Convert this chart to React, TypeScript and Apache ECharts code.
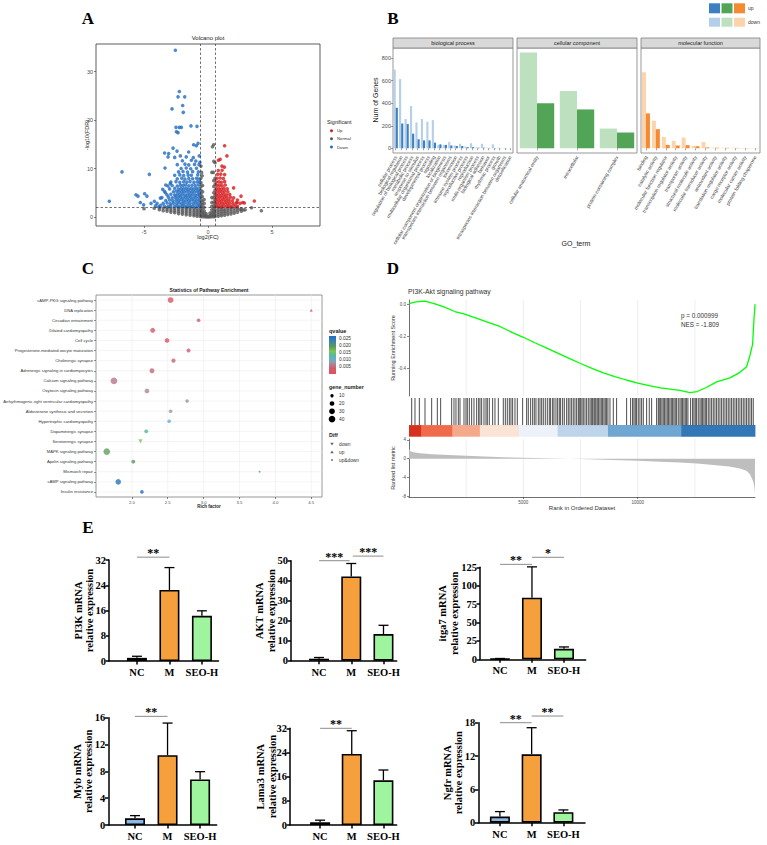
import React, { useEffect, useRef } from "react";
import * as echarts from "echarts";

const sans = "'Liberation Sans', Arial, sans-serif";
const serif = "'Liberation Serif', 'Times New Roman', serif";

// ================= A: volcano =================
const volcanoXTicks = [-5, 0, 5];
const volcanoYTicks = [0, 10, 20, 30];
const log2FcCutoff = 0.585;
const negLog10FdrCutoff = 2;

const volcanoNormal = [
  [-5.0, 1.7], [-4.2, 1.8], [-3.8, 1.5], [-3.8, 1.9], [-3.5, 1.3], [-3.5, 1.8], [-3.2, 1.2], [-3.2, 1.6], [-3.2, 1.95],
  [-2.9, 1.0], [-2.9, 1.4], [-2.9, 1.8], [-2.6, 0.9], [-2.6, 1.3], [-2.6, 1.7],
  [-2.3, 0.7], [-2.3, 1.1], [-2.3, 1.5], [-2.3, 1.9], [-2.0, 0.6], [-2.0, 1.0], [-2.0, 1.4], [-2.0, 1.8],
  [-1.7, 0.45], [-1.7, 0.85], [-1.7, 1.25], [-1.7, 1.65], [-1.7, 1.95], [-1.4, 0.35], [-1.4, 0.75], [-1.4, 1.15], [-1.4, 1.55], [-1.4, 1.9],
  [-1.1, 0.25], [-1.1, 0.6], [-1.1, 1.0], [-1.1, 1.4], [-1.1, 1.8], [-0.85, 0.15], [-0.85, 0.5], [-0.85, 0.9], [-0.85, 1.3], [-0.85, 1.7],
  [-0.6, 0.1], [-0.6, 0.45], [-0.6, 0.85], [-0.6, 1.25], [-0.6, 1.65], [-0.55, 2.1], [-0.55, 2.7], [-0.55, 3.4], [-0.55, 4.1],
  [-0.55, 4.8], [-0.55, 5.5], [-0.55, 6.3], [-0.55, 7.1], [-0.55, 8.0], [-0.5, 9.2], [-0.55, 10.5],
  [-0.45, 0.05], [-0.45, 0.4], [-0.45, 0.8], [-0.45, 1.3], [-0.45, 1.9], [-0.45, 2.6], [-0.45, 3.3], [-0.45, 4.2], [-0.42, 5.2], [-0.42, 6.5], [-0.45, 8.5],
  [-0.3, 0.05], [-0.3, 0.35], [-0.3, 0.8], [-0.3, 1.3], [-0.3, 2.0], [-0.3, 2.8], [-0.3, 3.6],
  [-0.15, 0.0], [-0.15, 0.3], [-0.15, 0.7], [0, 0.0], [0, 0.15], [0.15, 0.0], [0.15, 0.3], [0.15, 0.8],
  [0.3, 0.05], [0.3, 0.4], [0.3, 0.9], [0.3, 1.5], [0.3, 2.2], [0.3, 3.0], [0.3, 4.0], [0.3, 9.2],
  [0.45, 0.05], [0.45, 0.45], [0.45, 1.0], [0.45, 1.6], [0.45, 2.3], [0.45, 3.1], [0.45, 4.0], [0.45, 5.0], [0.45, 6.3], [0.45, 7.5],
  [0.42, 9.2], [0.45, 11.5], [0.44, 14.9], [0.35, 14.5],
  [0.55, 0.1], [0.55, 0.5], [0.55, 1.0], [0.55, 1.5], [0.55, 2.1], [0.55, 2.8], [0.55, 3.6], [0.55, 4.5], [0.55, 5.5], [0.55, 6.7], [0.55, 8.0], [0.55, 11.2],
  [0.8, 0.15], [0.8, 0.55], [0.8, 1.0], [0.8, 1.45], [0.8, 1.9], [1.05, 0.25], [1.05, 0.65], [1.05, 1.1], [1.05, 1.5], [1.05, 1.9],
  [1.3, 0.35], [1.3, 0.8], [1.3, 1.2], [1.3, 1.6], [1.55, 0.5], [1.55, 0.95], [1.55, 1.4], [1.55, 1.85],
  [1.8, 0.65], [1.8, 1.1], [1.8, 1.55], [1.8, 1.95], [2.05, 0.8], [2.05, 1.3], [2.05, 1.8], [2.3, 1.0], [2.3, 1.5], [2.3, 1.9],
  [2.6, 1.2], [2.6, 1.7], [2.9, 1.5], [2.55, 1.55], [3.4, 1.9], [4.17, 1.3], [2.79, 1.45],
];

const volcanoDown = [
  [-2.55, 34.4], [-2.24, 25.9], [-2.34, 24.8], [-1.82, 24.8], [-1.98, 23.0], [-2.81, 22.3], [-1.93, 21.6],
  [-2.5, 18.5], [-2.24, 18.5], [-2.08, 18.5], [-2.47, 17.6], [-2.34, 17.4], [-1.33, 18.8], [-0.86, 18.7],
  [-6.72, 9.3], [-4.58, 8.8], [-7.71, 3.25], [-5.63, 4.6], [-5.47, 4.3], [-4.95, 4.8], [-4.77, 4.3], [-5.29, 3.0], [-5.03, 2.5], [-4.45, 2.8],
  [-3.36, 10.1], [-3.39, 13.2], [-3.07, 13.1], [-2.73, 14.2], [-1.12, 14.9], [-0.78, 15.2], [-0.91, 14.7], [-1.51, 13.4],
  [-2.42, 13.6], [-2.16, 12.6], [-3.12, 12.4], [-0.68, 12.6], [-0.63, 11.3],
  [-3.72, 3.9], [-3.54, 5.7], [-3.33, 5.0], [-3.98, 2.8], [-4.19, 3.25], [-3.13, 6.4], [-2.95, 6.9], [-4.1, 2.3], [-3.85, 2.1],
  [-3.4, 2.2], [-3.1, 2.15], [-2.9, 2.3], [-2.6, 2.2], [-2.4, 2.25], [-2.2, 2.1], [-2.0, 2.3], [-1.8, 2.2], [-1.6, 2.15], [-1.4, 2.3], [-1.2, 2.2], [-1.0, 2.1], [-0.8, 2.25], [-0.65, 2.2], [-3.7, 2.4],
  [-3.5, 2.8], [-3.2, 2.9], [-2.95, 2.75], [-2.7, 2.85], [-2.45, 2.8], [-2.25, 2.9], [-2.05, 2.75], [-1.85, 2.85], [-1.6, 2.8], [-1.4, 2.9], [-1.15, 2.75], [-0.95, 2.85], [-0.75, 2.8],
  [-3.3, 3.4], [-3.0, 3.5], [-2.75, 3.35], [-2.5, 3.45], [-2.3, 3.4], [-2.1, 3.5], [-1.9, 3.35], [-1.7, 3.45], [-1.5, 3.4], [-1.3, 3.5], [-1.1, 3.35], [-0.9, 3.45], [-0.7, 3.4],
  [-3.6, 4.0], [-3.1, 4.1], [-2.8, 3.95], [-2.55, 4.05], [-2.35, 4.0], [-2.15, 4.1], [-1.95, 3.95], [-1.75, 4.05], [-1.55, 4.0], [-1.35, 4.1], [-1.15, 3.95], [-0.95, 4.05], [-0.72, 4.0],
  [-3.2, 4.6], [-2.9, 4.7], [-2.6, 4.55], [-2.4, 4.65], [-2.2, 4.6], [-2.0, 4.7], [-1.8, 4.55], [-1.6, 4.65], [-1.4, 4.6], [-1.2, 4.7], [-1.0, 4.55], [-0.8, 4.65], [-0.65, 4.6],
  [-3.4, 5.3], [-2.7, 5.2], [-2.45, 5.3], [-2.25, 5.15], [-2.05, 5.25], [-1.85, 5.2], [-1.65, 5.3], [-1.45, 5.15], [-1.25, 5.25], [-1.05, 5.2], [-0.85, 5.3], [-0.68, 5.2],
  [-3.0, 5.8], [-2.6, 5.9], [-2.3, 5.75], [-2.1, 5.85], [-1.9, 5.8], [-1.7, 5.9], [-1.5, 5.75], [-1.3, 5.85], [-1.1, 5.8], [-0.9, 5.9], [-0.7, 5.8],
  [-3.3, 6.6], [-2.8, 6.5], [-2.4, 6.4], [-2.15, 6.55], [-1.95, 6.5], [-1.75, 6.6], [-1.5, 6.45], [-1.25, 6.55], [-1.0, 6.5], [-0.75, 6.6],
  [-2.9, 7.2], [-2.5, 7.3], [-2.2, 7.15], [-1.9, 7.25], [-1.65, 7.2], [-1.4, 7.3], [-1.1, 7.15], [-0.85, 7.25], [-0.65, 7.2],
  [-2.4, 7.9], [-2.05, 8.0], [-1.8, 7.85], [-1.5, 7.95], [-1.2, 7.9], [-0.9, 8.0], [-0.7, 7.85],
  [-2.6, 8.6], [-2.2, 8.7], [-1.9, 8.55], [-1.55, 8.65], [-1.3, 8.6], [-0.8, 8.7],
  [-2.3, 9.3], [-1.95, 9.4], [-1.6, 9.25], [-1.2, 9.35], [-0.75, 9.3],
  [-2.1, 10.0], [-1.7, 10.1], [-1.35, 9.95], [-0.9, 10.05],
  [-2.4, 10.8], [-1.8, 10.9], [-1.5, 10.75], [-1.05, 10.85], [-0.7, 10.8],
  [-2.0, 11.6], [-1.3, 11.7], [-0.95, 11.55],
  [-2.6, 12.3], [-1.7, 12.4], [-1.15, 12.25],
];

const volcanoUp = [
  [1.3, 14.7], [1.48, 12.6], [0.81, 11.7], [0.95, 11.9], [1.09, 10.5], [1.28, 10.3], [2.58, 4.3], [2.71, 3.0], [2.84, 2.9], [3.62, 3.3], [2.27, 3.0], [2.0, 6.0],
  [0.65, 2.2], [0.85, 2.25], [1.05, 2.15], [1.25, 2.3], [1.45, 2.2], [1.65, 2.25], [1.85, 2.15], [2.1, 2.3], [2.3, 2.2],
  [0.7, 2.8], [0.9, 2.85], [1.1, 2.75], [1.3, 2.9], [1.5, 2.8], [1.7, 2.85], [1.95, 2.75], [2.2, 2.9], [2.5, 2.8],
  [0.65, 3.4], [0.85, 3.45], [1.05, 3.35], [1.25, 3.5], [1.45, 3.4], [1.65, 3.45], [1.9, 3.35], [2.3, 3.5],
  [0.7, 4.0], [0.9, 4.05], [1.1, 3.95], [1.3, 4.1], [1.5, 4.0], [1.75, 4.05], [2.0, 3.95],
  [0.65, 4.6], [0.85, 4.65], [1.05, 4.55], [1.25, 4.7], [1.45, 4.6], [1.7, 4.65],
  [0.7, 5.2], [0.9, 5.25], [1.1, 5.15], [1.3, 5.3], [1.55, 5.2],
  [0.65, 5.8], [0.85, 5.85], [1.05, 5.75], [1.25, 5.9], [1.5, 5.8],
  [0.7, 6.5], [0.9, 6.55], [1.1, 6.45], [1.35, 6.6],
  [0.65, 7.2], [0.85, 7.25], [1.05, 7.15], [1.3, 7.3],
  [0.7, 8.0], [0.95, 8.05], [1.2, 7.95],
  [0.75, 8.8], [1.0, 8.85], [1.3, 8.75],
  [0.8, 9.6], [1.1, 9.65],
];

// ================= B: GO =================
const goYTicks = [0, 200, 400, 600, 800];
const bpTerms = [
  "cellular process", "biological regulation", "regulation of biological process", "metabolic process",
  "response to stimulus", "multicellular organismal process", "developmental process", "signaling",
  "localization", "cellular component organization or biogenesis", "interspecies interaction between organisms",
  "locomotion", "immune system process", "reproductive process", "reproduction", "multi-organism process",
  "biological adhesion", "behavior", "rhythmic process", "growth", "intraspecies interaction between organisms", "detoxification",
];
const bpDown = [700, 615, 260, 375, 230, 260, 235, 250, 30, 30, 55, 25, 40, 15, 45, 8, 40, 5, 35, 5, 4, 3];
const bpUp = [360, 220, 215, 130, 80, 70, 70, 50, 35, 30, 25, 20, 20, 10, 10, 5, 5, 3, 3, 2, 2, 1];
const ccTerms = ["cellular anatomical entity", "intracellular", "protein-containing complex"];
const ccDown = [850, 510, 175];
const ccUp = [400, 345, 140];
const mfTerms = [
  "binding", "catalytic activity", "molecular function regulator", "transcription regulator activity",
  "transporter activity", "structural molecule activity", "molecular transducer activity", "antioxidant activity",
  "translation regulator activity", "cargo receptor activity", "molecular carrier activity", "protein folding chaperone",
];
const mfDown = [675, 245, 100, 65, 95, 22, 55, 6, 5, 4, 3, 2];
const mfUp = [310, 170, 30, 25, 28, 18, 8, 5, 4, 3, 2, 1];

// ================= C: KEGG =================
const keggPathways = [
  "cAMP-PKG signaling pathway", "DNA replication", "Circadian entrainment", "Dilated cardiomyopathy", "Cell cycle",
  "Progesterone-mediated oocyte maturation", "Cholinergic synapse", "Adrenergic signaling in cardiomyocytes",
  "Calcium signaling pathway", "Oxytocin signaling pathway", "Arrhythmogenic right ventricular cardiomyopathy",
  "Aldosterone synthesis and secretion", "Hypertrophic cardiomyopathy", "Dopaminergic synapse", "Serotonergic synapse",
  "MAPK signaling pathway", "Apelin signaling pathway", "Mismatch repair", "cAMP signaling pathway", "Insulin resistance",
];
const keggRichFactor = [2.54, 4.5, 2.93, 2.29, 2.49, 2.79, 2.58, 2.28, 1.75, 2.21, 2.77, 2.54, 2.52, 2.2, 2.12, 1.65, 2.02, 3.78, 1.81, 2.14];
const keggGeneNumber = [30, 8, 12, 22, 20, 14, 16, 22, 42, 20, 11, 11, 12, 14, 16, 40, 14, 3, 28, 12];
const keggQvalue = [0.002, 0.003, 0.003, 0.003, 0.003, 0.004, 0.0045, 0.005, 0.006, 0.007, 0.0075, 0.008, 0.0105, 0.0135, 0.016, 0.019, 0.0195, 0.021, 0.026, 0.027];
const keggDiff = ["up&down", "up", "up&down", "up&down", "up&down", "up&down", "up&down", "up&down", "up&down", "up&down",
  "up&down", "up&down", "up&down", "up&down", "down", "up&down", "up&down", "up&down", "up&down", "up&down"];
const richFactorTicks = [2, 2.5, 3, 3.5, 4, 4.5];
const qLegendTicks = [0.025, 0.02, 0.015, 0.01, 0.005];
const geneLegend = [10, 20, 30, 40];
const diffLegend = ["down", "up", "up&down"];

// ================= D: GSEA =================
const esRank = [0, 300, 700, 1100, 1500, 2000, 2400, 3000, 3400, 4000, 4500, 5000, 5500, 6000, 6500, 7000, 7500, 8000, 8500, 9000,
  9500, 10000, 10500, 11000, 11500, 11850, 12280, 12600, 13000, 13450, 14030, 14470, 14760, 14905, 15022, 15080, 15127];
const esScore = [0.005, 0.015, 0.02, 0.005, -0.015, -0.045, -0.06, -0.09, -0.11, -0.14, -0.175, -0.206, -0.24, -0.272, -0.305, -0.338,
  -0.37, -0.4, -0.428, -0.452, -0.473, -0.492, -0.508, -0.522, -0.532, -0.538, -0.552, -0.545, -0.52, -0.485, -0.46, -0.425, -0.39,
  -0.32, -0.25, -0.1, 0.0];
const hitRanks = [117, 262, 452, 699, 991, 1238, 1384, 1865, 1967, 2054, 2156, 2229, 2404, 2491, 2550, 2637, 2739, 2841, 2958, 3045,
  3103, 3176, 3278, 3366, 3424, 3511, 3657, 3759, 3905, 4123, 4211, 4298, 4386, 4458, 4531, 4633, 4735, 4968, 5143, 5216, 5318, 5406,
  5478, 5551, 5653, 5726, 5799, 5872, 5959, 6047, 6134, 6192, 6280, 6338, 6425, 6498, 6571, 6629, 6717, 6790, 6892, 6965, 7037, 7110,
  7183, 7256, 7329, 7402, 7445, 7504, 7562, 7620, 7693, 7766, 7839, 7912, 7970, 8028, 8087, 8130, 8174, 8232, 8290, 8349, 8407, 8465,
  8524, 8582, 8640, 8698, 8786, 8932, 9077, 9514, 9689, 9776, 9835, 9893, 9951, 10024, 10097, 10170, 10243, 10389, 10505, 10607,
  10826, 10899, 10942, 11001, 11059, 11117, 11175, 11234, 11292, 11350, 11408, 11467, 11525, 11583, 11641, 11700, 11773, 11846,
  11904, 11962, 12020, 12079, 12137, 12195, 12312, 12399, 12457, 12516, 12574, 12647, 12720, 12778, 12836, 12894, 12953, 13011,
  13084, 13157, 13230, 13303, 13375, 13448, 13521, 13594, 13667, 13740, 13813, 13886, 13958, 14031, 14104, 14177, 14250, 14322,
  14395, 14468, 14541, 14614, 14687, 14760, 14833, 14905, 14978, 15051];
const metricRank = [0, 60, 200, 480, 1000, 2000, 3000, 4500, 5500, 6500, 7500, 8900, 10000, 11000, 11850, 12600, 13300, 14000, 14470,
  14750, 14900, 15050, 15100, 15127];
const metricValue = [2.1, 1.6, 1.35, 1.15, 0.95, 0.7, 0.5, 0.25, 0.12, 0.02, -0.1, -0.3, -0.45, -0.65, -0.85, -1.05, -1.35, -1.7, -2.1,
  -2.6, -3.3, -4.9, -6.0, -7.5];
const colorBarBreaks = [0, 540, 1900, 3100, 4800, 6500, 8700, 11900, 15127];
const rankTicks = [5000, 10000];
const rankGridBreaks = [2500, 5000, 7500, 10000, 12500];
const esTicks = [0, -0.2, -0.4];
const metricTicks = [4, 0, -4, -8];
const gseaPathway = "PI3K-Akt signaling pathway";
const gseaP = "0.000999";
const gseaNES = "-1.809";

// ================= E: qPCR =================
const groups = ["NC", "M", "SEO-H"];
const pi3kMean = [1.0, 22.5, 14.3];
const pi3kSd = [0.5, 7.1, 1.6];
const pi3kSig = [[0, 1, 32.9]];
const pi3kSigLabels = ["**"];
const aktMean = [1.0, 42.1, 13.3];
const aktSd = [0.6, 6.5, 4.4];
const aktSig = [[0, 0.95, 50.0], [1.05, 2, 52.3]];
const aktSigLabels = ["***", "***"];
const itga7Mean = [0.5, 83.6, 14.2];
const itga7Sd = [0.6, 42.0, 2.6];
const itga7Sig = [[0, 1, 129.0], [1, 2, 138.6]];
const itga7SigLabels = ["**", "*"];
const mybMean = [1.0, 10.4, 6.8];
const mybSd = [0.4, 4.8, 1.15];
const mybSig = [[0, 1, 16.2]];
const mybSigLabels = ["**"];
const lama3Mean = [0.9, 23.5, 14.8];
const lama3Sd = [0.7, 7.7, 3.4];
const lama3Sig = [[0, 1, 32.0]];
const lama3SigLabels = ["**"];
const ngfrMean = [1.1, 12.3, 1.9];
const ngfrSd = [0.9, 4.8, 0.4];
const ngfrSig = [[0, 1, 18.0], [1, 2, 19.2]];
const ngfrSigLabels = ["**", "**"];

// ---------------- styles ----------------
const goColors = [
  { down: "#b3cfe9", up: "#3d7fc1" },
  { down: "#bde0bf", up: "#52a457" },
  { down: "#fdd3ac", up: "#f58b30" },
];
const qColorStops: [number, string][] = [
  [0, "#e3505f"], [0.004, "#d35a6d"], [0.0068, "#ad8293"], [0.0085, "#989aa6"], [0.0105, "#5db1d3"],
  [0.0135, "#57b99b"], [0.016, "#7fc454"], [0.0195, "#5b9960"], [0.023, "#3f84a5"], [0.027, "#1f6fc4"],
];
const colorBarColors = ["#d7301f", "#f06a4c", "#f6a98a", "#fbe3d6", "#edf1f9", "#bdd4ea", "#6fa6d2", "#3377b5"];
const groupColors = ["#8db8e6", "#f6a03d", "#9ff59e"];

function hexToRgb(h: string) {
  return [parseInt(h.slice(1, 3), 16), parseInt(h.slice(3, 5), 16), parseInt(h.slice(5, 7), 16)];
}
function qColor(q: number) {
  for (let i = 0; i < qColorStops.length - 1; i++) {
    const [q0, c0] = qColorStops[i];
    const [q1, c1] = qColorStops[i + 1];
    if (q <= q1) {
      const t = Math.max(0, Math.min(1, (q - q0) / (q1 - q0)));
      const a = hexToRgb(c0), b = hexToRgb(c1);
      return `rgb(${a.map((v, k) => Math.round(v + (b[k] - v) * t)).join(",")})`;
    }
  }
  return qColorStops[qColorStops.length - 1][1];
}
const geneSize = (n: number) => 1.05 * Math.sqrt(n);

function buildOption() {
  const grid: any[] = [];
  const xAxis: any[] = [];
  const yAxis: any[] = [];
  const series: any[] = [];
  const els: any[] = [];

  const addText = (t: string, x: number, y: number, o: any = {}) => {
    els.push({
      type: "text", x, y, rotation: o.rot || 0, silent: true, z: 100,
      style: {
        text: t, fontSize: o.size || 6, fontFamily: o.family || sans, fontWeight: o.weight || "normal",
        fill: o.color || "#1a1a1a", align: o.align || "center", verticalAlign: o.va || "middle",
      },
    });
  };
  const addRect = (x: number, y: number, w: number, h: number, fill: any, stroke?: string) => {
    els.push({ type: "rect", silent: true, z: 99, shape: { x, y, width: w, height: h }, style: { fill, stroke: stroke || "none", lineWidth: stroke ? 0.8 : 0 } });
  };
  const addGrid = (gr: any, xa: any, ya: any) => {
    const i = grid.length;
    grid.push(gr);
    xAxis.push({ gridIndex: i, ...xa });
    yAxis.push({ gridIndex: i, ...ya });
    return i;
  };
  const vGrid = (gi: number, xs: number[], color: string, width: number) => ({
    type: "custom", xAxisIndex: gi, yAxisIndex: gi, silent: true, z: 1, clip: false,
    data: xs.map((v) => [v]),
    renderItem: (p: any, api: any) => {
      const cs = p.coordSys;
      const x = api.coord([api.value(0), 0])[0];
      return { type: "line", shape: { x1: x, y1: cs.y, x2: x, y2: cs.y + cs.height }, style: { stroke: color, lineWidth: width } };
    },
  });

  // letters
  const L = { size: 17, weight: "bold", family: serif, color: "#000" };
  addText("A", 88, 18, L);
  addText("B", 393, 18, L);
  addText("C", 88, 268, L);
  addText("D", 393, 268, L);
  addText("E", 88, 527, L);

  // ---------- A ----------
  const tickSmall = { show: true, length: 2, lineStyle: { color: "#333", width: 0.6 } };
  const gA = addGrid(
    { left: 96, top: 44, width: 224, height: 182, show: true, borderColor: "#333", borderWidth: 0.8 },
    { type: "value", min: -8.75, max: 8.75, axisLine: { show: false, onZero: false },
      axisTick: { ...tickSmall, customValues: volcanoXTicks },
      axisLabel: { customValues: volcanoXTicks, fontSize: 5.5, color: "#4d4d4d", margin: 3, fontFamily: sans }, splitLine: { show: false } },
    { type: "value", min: -1.86, max: 35.7, axisLine: { show: false, onZero: false },
      axisTick: { ...tickSmall, customValues: volcanoYTicks },
      axisLabel: { customValues: volcanoYTicks, fontSize: 5.5, color: "#4d4d4d", margin: 3, fontFamily: sans }, splitLine: { show: false } }
  );
  series.push({ type: "scatter", xAxisIndex: gA, yAxisIndex: gA, data: volcanoNormal, symbolSize: 3.6, itemStyle: { color: "#595959" }, silent: true });
  series.push({ type: "scatter", xAxisIndex: gA, yAxisIndex: gA, data: volcanoDown, symbolSize: 3.6, itemStyle: { color: "#1f6cc0" }, silent: true });
  series.push({
    type: "scatter", xAxisIndex: gA, yAxisIndex: gA, data: volcanoUp, symbolSize: 3.6, itemStyle: { color: "#d7191c" }, silent: true,
    markLine: {
      silent: true, symbol: ["none", "none"], label: { show: false }, animation: false,
      lineStyle: { type: [2.5, 2], color: "#333", width: 0.7 },
      data: [{ xAxis: -log2FcCutoff }, { xAxis: log2FcCutoff }, { yAxis: negLog10FdrCutoff }],
    },
  });
  addText("Volcano plot", 208, 38, { size: 6 });
  addText("log2(FC)", 208, 237, { size: 5.5 });
  addText("-log10(FDR)", 87, 135, { size: 5.5, rot: Math.PI / 2 });
  addText("Significant", 327, 122, { size: 5.3, align: "left" });
  [["Up", "#d7191c", 130.7], ["Normal", "#595959", 138.7], ["Down", "#1f6cc0", 147]].forEach(([t, c, y]: any) => {
    els.push({ type: "circle", silent: true, z: 100, shape: { cx: 331.5, cy: y, r: 1.5 }, style: { fill: c } });
    addText(t, 337, y, { size: 4.3, align: "left", color: "#333" });
  });

  // ---------- B ----------
  const goPanels = [
    { terms: bpTerms, down: bpDown, up: bpUp, title: "biological process", left: 393, width: 120, gap: "22%" },
    { terms: ccTerms, down: ccDown, up: ccUp, title: "cellular component", left: 517, width: 120, gap: "14%" },
    { terms: mfTerms, down: mfDown, up: mfUp, title: "molecular function", left: 641, width: 119, gap: "20%" },
  ];
  goPanels.forEach((pn, k) => {
    const gi = addGrid(
      { left: pn.left, top: 48, width: pn.width, height: 105, show: true, borderColor: "#7f7f7f", borderWidth: 0.8 },
      { type: "category", data: pn.terms, axisLine: { show: false },
        axisTick: { show: true, alignWithLabel: true, length: 2, lineStyle: { color: "#444", width: 0.5 } },
        axisLabel: { interval: 0, rotate: 60, fontSize: 5, color: "#4d4d4d", margin: 3, fontFamily: sans } },
      { type: "value", min: -42, max: 891, axisLine: { show: false, onZero: false },
        axisTick: { show: k === 0, length: 2, customValues: goYTicks, lineStyle: { color: "#444", width: 0.5 } },
        axisLabel: { show: k === 0, customValues: goYTicks, fontSize: 5.5, color: "#4d4d4d", margin: 2, fontFamily: sans },
        splitLine: { show: false } }
    );
    series.push({ type: "bar", name: "down", xAxisIndex: gi, yAxisIndex: gi, data: pn.down, barGap: "0%", barCategoryGap: pn.gap, itemStyle: { color: goColors[k].down }, silent: true });
    series.push({ type: "bar", name: "up", xAxisIndex: gi, yAxisIndex: gi, data: pn.up, barGap: "0%", barCategoryGap: pn.gap, itemStyle: { color: goColors[k].up }, silent: true });
    addRect(pn.left, 38, pn.width, 10, "#d9d9d9", "#7f7f7f");
    addText(pn.title, pn.left + pn.width / 2, 43, { size: 5.5, color: "#1a1a1a" });
  });
  addText("Num of Genes", 375, 100, { size: 7, rot: Math.PI / 2 });
  addText("GO_term", 576, 243, { size: 7 });
  goColors.forEach((c, k) => {
    addRect(709 + k * 12.5, 3.3, 11, 10, c.up);
    addRect(709 + k * 12.5, 17.7, 11, 9, c.down);
  });
  addText("up", 748, 8.3, { size: 5, align: "left", color: "#333" });
  addText("down", 748, 22, { size: 5, align: "left", color: "#333" });

  // ---------- C ----------
  const gC = addGrid(
    { left: 96, top: 295, width: 226, height: 202, show: true, borderColor: "#7f7f7f", borderWidth: 0.8 },
    { type: "value", min: 1.5, max: 4.65, axisLine: { show: false, onZero: false },
      axisTick: { ...tickSmall, customValues: richFactorTicks },
      axisLabel: { customValues: richFactorTicks, formatter: (v: number) => v.toFixed(1), fontSize: 4.3, color: "#4d4d4d", margin: 3, fontFamily: sans },
      splitLine: { show: false } },
    { type: "category", inverse: true, data: keggPathways, axisLine: { show: false },
      axisTick: { show: true, alignWithLabel: true, length: 2, lineStyle: { color: "#333", width: 0.5 } },
      axisLabel: { interval: 0, fontSize: 4.2, color: "#333", margin: 3, fontFamily: sans }, splitLine: { show: false } }
  );
  series.push(vGrid(gC, richFactorTicks, "#ececec", 0.6));
  series.push({
    type: "custom", xAxisIndex: gC, yAxisIndex: gC, silent: true, z: 1, clip: false,
    data: keggPathways.map((_, i) => [richFactorTicks[0], i]),
    renderItem: (p: any, api: any) => {
      const cs = p.coordSys;
      const y = api.coord([api.value(0), api.value(1)])[1];
      return { type: "line", shape: { x1: cs.x, y1: y, x2: cs.x + cs.width, y2: y }, style: { stroke: "#ececec", lineWidth: 0.6 } };
    },
  });
  series.push({
    type: "scatter", xAxisIndex: gC, yAxisIndex: gC, silent: true, z: 3,
    data: keggPathways.map((_, i) => ({
      value: [keggRichFactor[i], i],
      symbol: keggDiff[i] === "up&down" ? "circle" : "triangle",
      symbolRotate: keggDiff[i] === "down" ? 180 : 0,
      symbolSize: geneSize(keggGeneNumber[i]),
      itemStyle: { color: qColor(keggQvalue[i]) },
    })),
  });
  addText("Statistics of Pathway Enrichment", 209, 290, { size: 5, weight: "bold" });
  addText("Rich factor", 209, 506, { size: 4.5, weight: "bold" });
  // legend: qvalue
  addText("qvalue", 329, 331, { size: 5.5, weight: "bold", align: "left" });
  const qMax = 0.027, barTop = 336, barH = 38;
  const grad = new echarts.graphic.LinearGradient(0, 0, 0, 1,
    qColorStops.slice().reverse().map(([q, c]) => ({ offset: 1 - q / qMax, color: c })));
  addRect(329, barTop, 7, barH, grad);
  qLegendTicks.forEach((q) => addText(q.toFixed(3), 339, barTop + barH - (q / qMax) * barH, { size: 4.8, align: "left", color: "#333" }));
  addText("gene_number", 329, 387, { size: 5.3, weight: "bold", align: "left" });
  geneLegend.forEach((n, k) => {
    const y = 395.7 + k * 7.8;
    els.push({ type: "circle", silent: true, z: 100, shape: { cx: 332, cy: y, r: geneSize(n) / 2 }, style: { fill: "#000" } });
    addText(String(n), 339, y, { size: 4.8, align: "left", color: "#333" });
  });
  addText("Diff", 329, 435, { size: 5.3, weight: "bold", align: "left" });
  diffLegend.forEach((d, k) => {
    const y = 444 + k * 8;
    if (d === "down") els.push({ type: "polygon", silent: true, z: 100, shape: { points: [[330.3, y - 1.2], [333.7, y - 1.2], [332, y + 1.6]] }, style: { fill: "#666" } });
    else if (d === "up") els.push({ type: "polygon", silent: true, z: 100, shape: { points: [[330.3, y + 1.2], [333.7, y + 1.2], [332, y - 1.6]] }, style: { fill: "#666" } });
    else els.push({ type: "circle", silent: true, z: 100, shape: { cx: 332, cy: y, r: 0.9 }, style: { fill: "#666" } });
    addText(d, 339, y, { size: 4.8, align: "left", color: "#333" });
  });

  // ---------- D ----------
  const gridLine = "#e6e6e6";
  const gES = addGrid(
    { left: 409, top: 300, width: 346, height: 96 },
    { type: "value", min: 0, max: 15127, axisLine: { show: false, onZero: false }, axisTick: { show: false }, axisLabel: { show: false }, splitLine: { show: false } },
    { type: "value", min: -0.573, max: 0.027, axisLine: { show: true, onZero: false, lineStyle: { color: "#333", width: 0.7 } },
      axisTick: { ...tickSmall, customValues: esTicks },
      axisLabel: { customValues: esTicks, formatter: (v: number) => v.toFixed(1), fontSize: 4.5, color: "#4d4d4d", margin: 3, fontFamily: sans },
      splitLine: { show: false } }
  );
  series.push(vGrid(gES, rankGridBreaks, gridLine, 0.7));
  series.push({
    type: "line", xAxisIndex: gES, yAxisIndex: gES, data: esRank.map((r, i) => [r, esScore[i]]), symbol: "none", silent: true, z: 3,
    lineStyle: { color: "#00ff00", width: 1.3 },
  });
  const gBar = addGrid(
    { left: 409, top: 398, width: 346, height: 38.7 },
    { type: "value", min: 0, max: 15127, show: false },
    { type: "value", min: 0, max: 1, show: false }
  );
  series.push({
    type: "custom", xAxisIndex: gBar, yAxisIndex: gBar, silent: true, clip: false, z: 2,
    data: colorBarColors.map((_, i) => [colorBarBreaks[i], colorBarBreaks[i + 1]]),
    renderItem: (p: any, api: any) => {
      const a = api.coord([api.value(0), 0.3]);
      const b = api.coord([api.value(1), 0]);
      return { type: "rect", shape: { x: a[0], y: a[1], width: b[0] - a[0] + 0.4, height: b[1] - a[1] }, style: { fill: colorBarColors[p.dataIndex] } };
    },
  });
  series.push({
    type: "custom", xAxisIndex: gBar, yAxisIndex: gBar, silent: true, clip: false, z: 3,
    data: hitRanks.map((r) => [r, 1]),
    renderItem: (p: any, api: any) => {
      const a = api.coord([api.value(0), 1]);
      const b = api.coord([api.value(0), 0.3]);
      return { type: "line", shape: { x1: a[0], y1: a[1], x2: b[0], y2: b[1] }, style: { stroke: "#000", lineWidth: 0.7 } };
    },
  });
  const gRank = addGrid(
    { left: 409, top: 439, width: 346, height: 58 },
    { type: "value", min: 0, max: 15127, axisLine: { show: true, onZero: false, lineStyle: { color: "#333", width: 0.7 } },
      axisTick: { ...tickSmall, customValues: rankTicks },
      axisLabel: { customValues: rankTicks, formatter: (v: number) => String(v), fontSize: 4.5, color: "#4d4d4d", margin: 3, fontFamily: sans }, splitLine: { show: false } },
    { type: "value", min: -8.2, max: 4.2, axisLine: { show: true, onZero: false, lineStyle: { color: "#333", width: 0.7 } },
      axisTick: { ...tickSmall, customValues: metricTicks },
      axisLabel: { customValues: metricTicks, formatter: (v: number) => String(v), fontSize: 4.5, color: "#4d4d4d", margin: 3, fontFamily: sans }, splitLine: { show: false } }
  );
  series.push(vGrid(gRank, rankGridBreaks, gridLine, 0.7));
  series.push({
    type: "line", xAxisIndex: gRank, yAxisIndex: gRank, data: metricRank.map((r, i) => [r, metricValue[i]]), symbol: "none", silent: true, z: 2,
    lineStyle: { width: 0 }, areaStyle: { color: "#bebebe", opacity: 1 },
  });
  addText(gseaPathway, 408, 291, { size: 6.8, align: "left", color: "#333" });
  addText("Running Enrichment Score", 392.5, 348, { size: 5.5, rot: Math.PI / 2, color: "#333" });
  addText("Ranked list metric", 392.5, 468, { size: 5.5, rot: Math.PI / 2, color: "#333" });
  addText("Rank in Ordered Dataset", 582, 508, { size: 6, color: "#333" });
  addText(`p = ${gseaP}`, 681, 315, { size: 6.3, align: "left", color: "#333" });
  addText(`NES = ${gseaNES}`, 681, 324.5, { size: 6.3, align: "left", color: "#333" });

  // ---------- E ----------
  const eCharts = [
    { title: "PI3K mRNA", mean: pi3kMean, sd: pi3kSd, sig: pi3kSig, sigLabels: pi3kSigLabels, yMax: 32, yStep: 8 },
    { title: "AKT mRNA", mean: aktMean, sd: aktSd, sig: aktSig, sigLabels: aktSigLabels, yMax: 50, yStep: 10 },
    { title: "itga7 mRNA", mean: itga7Mean, sd: itga7Sd, sig: itga7Sig, sigLabels: itga7SigLabels, yMax: 125, yStep: 25 },
    { title: "Myb mRNA", mean: mybMean, sd: mybSd, sig: mybSig, sigLabels: mybSigLabels, yMax: 16, yStep: 4 },
    { title: "Lama3 mRNA", mean: lama3Mean, sd: lama3Sd, sig: lama3Sig, sigLabels: lama3SigLabels, yMax: 32, yStep: 8 },
    { title: "Ngfr mRNA", mean: ngfrMean, sd: ngfrSd, sig: ngfrSig, sigLabels: ngfrSigLabels, yMax: 18, yStep: 6 },
  ];
  const eLayout = [
    { left: 109, right: 218.5, top: 560, bottom: 661, xMin: -0.86, xMax: 2.51, t1: 78, t2: 89.5 },
    { left: 291, right: 396.7, top: 560.7, bottom: 660.7, xMin: -0.87, xMax: 2.41, t1: 259, t2: 271 },
    { left: 480, right: 585.7, top: 567.3, bottom: 659.3, xMin: -0.625, xMax: 2.68, t1: 442, t2: 454 },
    { left: 108.3, right: 216.7, top: 717.7, bottom: 825, xMin: -0.82, xMax: 2.51, t1: 77, t2: 88.5 },
    { left: 290, right: 396.7, top: 728.3, bottom: 825, xMin: -0.95, xMax: 2.42, t1: 260, t2: 272 },
    { left: 478.3, right: 585, top: 722.7, bottom: 822.7, xMin: -0.68, xMax: 2.68, t1: 447, t2: 458 },
  ];
  const blackAxis = { show: true, onZero: false, lineStyle: { color: "#000", width: 1.5 } };
  const blackTick = { show: true, length: 3.5, lineStyle: { color: "#000", width: 1.5 } };
  const eLabel = { fontFamily: serif, fontWeight: "bold", fontSize: 10.5, color: "#000" };
  eCharts.forEach((c, k) => {
    const Lo = eLayout[k];
    const gi = addGrid(
      { left: Lo.left, top: Lo.top, width: Lo.right - Lo.left, height: Lo.bottom - Lo.top },
      { type: "value", min: Lo.xMin, max: Lo.xMax, axisLine: blackAxis, axisTick: { ...blackTick, customValues: [0, 1, 2] },
        axisLabel: { ...eLabel, customValues: [0, 1, 2], formatter: (v: number) => groups[Math.round(v)] || "", margin: 6 }, splitLine: { show: false } },
      { type: "value", min: 0, max: c.yMax, interval: c.yStep, axisLine: blackAxis, axisTick: blackTick,
        axisLabel: { ...eLabel, margin: 3 }, splitLine: { show: false } }
    );
    series.push({
      type: "custom", xAxisIndex: gi, yAxisIndex: gi, silent: true, clip: false, z: 1,
      data: c.mean.map((m, i) => [i, m, m + c.sd[i]]),
      renderItem: (p: any, api: any) => {
        const a = api.coord([api.value(0), api.value(1)]);
        const b = api.coord([api.value(0), api.value(2)]);
        return {
          type: "group", children: [
            { type: "line", shape: { x1: a[0], y1: a[1], x2: b[0], y2: b[1] }, style: { stroke: "#000", lineWidth: 1.3 } },
            { type: "line", shape: { x1: b[0] - 5, y1: b[1], x2: b[0] + 5, y2: b[1] }, style: { stroke: "#000", lineWidth: 1.3 } },
          ],
        };
      },
    });
    series.push({
      type: "bar", xAxisIndex: gi, yAxisIndex: gi, barWidth: 20, z: 2, silent: true,
      itemStyle: { borderColor: "#000", borderWidth: 1.6 },
      data: c.mean.map((m, i) => ({ value: [i, m], itemStyle: { color: groupColors[i] } })),
    });
    series.push({
      type: "custom", xAxisIndex: gi, yAxisIndex: gi, silent: true, clip: false, z: 3,
      data: c.sig,
      renderItem: (p: any, api: any) => {
        const a = api.coord([api.value(0), api.value(2)]);
        const b = api.coord([api.value(1), api.value(2)]);
        return {
          type: "group", children: [
            { type: "line", shape: { x1: a[0], y1: a[1], x2: b[0], y2: b[1] }, style: { stroke: "#8c8c8c", lineWidth: 1 } },
            { type: "text", x: (a[0] + b[0]) / 2, y: a[1] - 4,
              style: { text: c.sigLabels[p.dataIndex], fontFamily: serif, fontWeight: "bold", fontSize: 12, fill: "#000", align: "center", verticalAlign: "middle" } },
          ],
        };
      },
    });
    const cy = (Lo.top + Lo.bottom) / 2;
    addText(c.title, Lo.t1, cy, { rot: Math.PI / 2, family: serif, weight: "bold", size: 10.5, color: "#000" });
    addText("relative expression", Lo.t2, cy, { rot: Math.PI / 2, family: serif, weight: "bold", size: 10.5, color: "#000" });
  });

  return {
    animation: false,
    backgroundColor: "#fff",
    textStyle: { fontFamily: sans },
    grid, xAxis, yAxis, series,
    graphic: { elements: els },
  };
}

export default function App() {
  const ref = useRef<HTMLDivElement>(null);
  useEffect(() => {
    const chart = echarts.init(ref.current as HTMLDivElement, null, { renderer: "svg" });
    chart.setOption(buildOption() as any);
    return () => chart.dispose();
  }, []);
  return <div ref={ref} style={{ position: "absolute", left: 0, top: 0, width: 767, height: 845, background: "#fff" }} />;
}
